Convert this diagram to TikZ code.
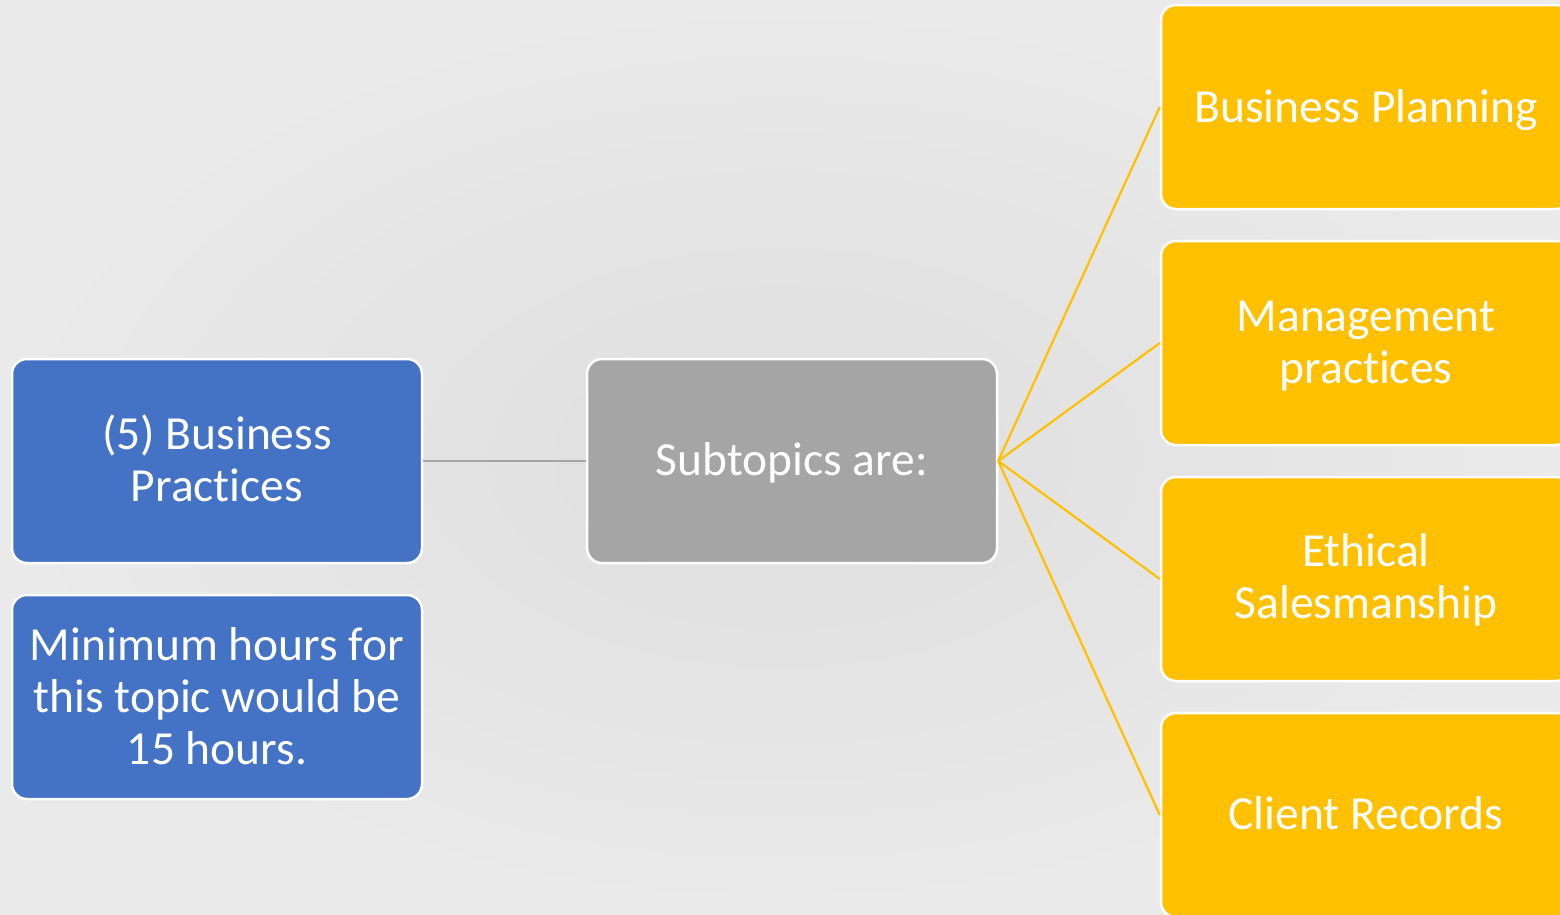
\documentclass[tikz,border=0pt]{standalone}
\usepackage{fontspec}
\setmainfont{Carlito}[Ligatures=NoCommon]
\definecolor{bgout}{RGB}{234,234,234}
\definecolor{bgin}{RGB}{222,222,222}
\definecolor{boxblue}{RGB}{68,114,196}
\definecolor{boxgray}{RGB}{165,165,165}
\definecolor{boxyellow}{RGB}{255,192,0}
\newcommand{\cardtext}[2]{\raisebox{#1}[0pt][0pt]{\begin{tabular}{@{}c@{}}#2\end{tabular}}}
\tikzset{
  card/.style={rectangle, rounded corners=15pt, draw=white, line width=2.5pt,
    minimum width=410pt, minimum height=204pt, inner sep=0pt, align=center,
    text=white, font=\fontsize{47.5}{52}\selectfont},
  bluecard/.style={card, fill=boxblue},
  graycard/.style={card, fill=boxgray},
  yellowcard/.style={card, fill=boxyellow},
  grayline/.style={draw=boxgray, line width=2.5pt},
  yellowline/.style={draw=boxyellow, line width=2.2pt}
}
\begin{document}
\begin{tikzpicture}[x=1pt,y=-1pt]
\useasboundingbox (0,0) rectangle (1560,914);
\clip (0,0) rectangle (1560,914);
\shade[inner color=bgin, outer color=bgout] (0,0) rectangle (1560,914);
\node[bluecard] (bp) at (217,461) {\cardtext{-10pt}{(5) Business\\Practices}};
\node[bluecard] (mh) at (217,697) {\cardtext{-11pt}{Minimum hours for\\this topic would be\\15 hours.}};
\node[graycard] (sub) at (792,461) {\cardtext{-10.5pt}{Subtopics are:}};
\node[yellowcard] (y1) at (1366,107) {\cardtext{-11.5pt}{Business Planning}};
\node[yellowcard] (y2) at (1366,343) {\cardtext{-10pt}{Management\\practices}};
\node[yellowcard] (y3) at (1366,579) {\cardtext{-9pt}{Ethical\\Salesmanship}};
\node[yellowcard] (y4) at (1366,815) {\cardtext{-10pt}{Client Records}};
\draw[grayline] (bp.east) -- (sub.west);
\draw[yellowline] (sub.east) -- (y1.west);
\draw[yellowline] (sub.east) -- (y2.west);
\draw[yellowline] (sub.east) -- (y3.west);
\draw[yellowline] (sub.east) -- (y4.west);
\end{tikzpicture}
\end{document}
